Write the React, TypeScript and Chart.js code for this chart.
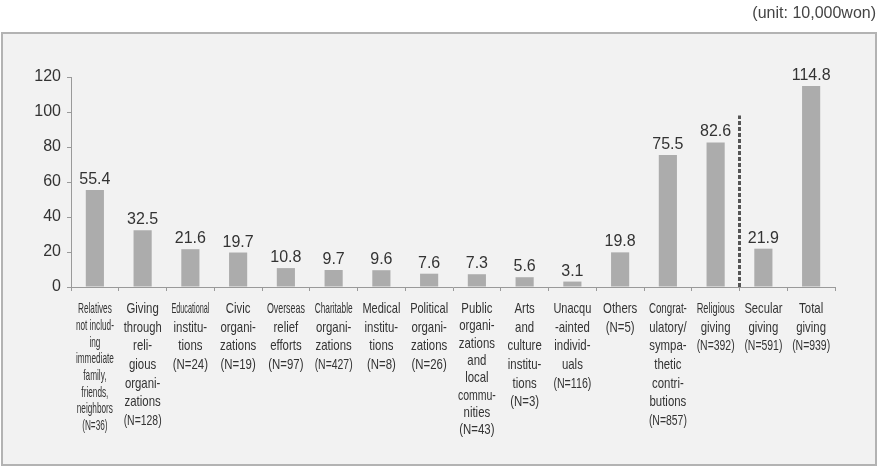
import { useEffect, useRef } from 'react';
import { Chart, registerables } from 'chart.js';

Chart.register(...registerables);

// ---- data ----
const categories: string[][] = [
  ['Relatives', 'not includ-', 'ing', 'immediate', 'family,', 'friends,', 'neighbors', '(N=36)'],
  ['Giving', 'through', 'reli-', 'gious', 'organi-', 'zations', '(N=128)'],
  ['Educational', 'institu-', 'tions', '(N=24)'],
  ['Civic', 'organi-', 'zations', '(N=19)'],
  ['Overseas', 'relief', 'efforts', '(N=97)'],
  ['Charitable', 'organi-', 'zations', '(N=427)'],
  ['Medical', 'institu-', 'tions', '(N=8)'],
  ['Political', 'organi-', 'zations', '(N=26)'],
  ['Public', 'organi-', 'zations', 'and', 'local', 'commu-', 'nities', '(N=43)'],
  ['Arts', 'and', 'culture', 'institu-', 'tions', '(N=3)'],
  ['Unacqu', '-ainted', 'individ-', 'uals', '(N=116)'],
  ['Others', '(N=5)'],
  ['Congrat-', 'ulatory/', 'sympa-', 'thetic', 'contri-', 'butions', '(N=857)'],
  ['Religious', 'giving', '(N=392)'],
  ['Secular', 'giving', '(N=591)'],
  ['Total', 'giving', '(N=939)'],
];
const values: number[] = [55.4, 32.5, 21.6, 19.7, 10.8, 9.7, 9.6, 7.6, 7.3, 5.6, 3.1, 19.8, 75.5, 82.6, 21.9, 114.8];
const yTicks: number[] = [0, 20, 40, 60, 80, 100, 120];
const unitText = '(unit: 10,000won)';
const dividerAfterIndex = 13; // dashed divider between Religious and Secular giving
const dividerTopValue = 98;

// ---- styles ----
const NUM_FONT = '"Liberation Sans", Arial, sans-serif';
const LABEL_FONT = '"Liberation Sans", Arial, sans-serif';
const TEXT_COLOR = '#333333';
const AXIS_COLOR = '#9a9a9a';
const BAR_COLOR = '#acacac';

const decorPlugin = {
  id: 'decor',
  beforeDraw(chart: any) {
    const ctx = chart.ctx as CanvasRenderingContext2D;
    ctx.save();
    ctx.fillStyle = '#ffffff';
    ctx.fillRect(0, 0, chart.width, chart.height);
    ctx.fillStyle = '#f2f2f2';
    ctx.fillRect(2, 33, 874, 432);
    ctx.strokeStyle = '#b3b3b3';
    ctx.lineWidth = 2;
    ctx.strokeRect(2, 33, 874, 432);
    ctx.fillStyle = '#444444';
    ctx.font = `16px ${NUM_FONT}`;
    ctx.textAlign = 'right';
    ctx.textBaseline = 'middle';
    ctx.fillText(unitText, 876, 14);
    ctx.restore();
  },
  afterDatasetsDraw(chart: any) {
    const ctx = chart.ctx as CanvasRenderingContext2D;
    const x = chart.scales.x;
    const y = chart.scales.y;
    const meta = chart.getDatasetMeta(0);
    ctx.save();
    ctx.fillStyle = TEXT_COLOR;
    ctx.font = `16px ${NUM_FONT}`;
    ctx.textAlign = 'center';
    ctx.textBaseline = 'alphabetic';
    meta.data.forEach((bar: any, i: number) => {
      ctx.fillText(values[i].toFixed(1), bar.x, bar.y - 6);
    });
    const dx = (x.getPixelForValue(dividerAfterIndex) + x.getPixelForValue(dividerAfterIndex + 1)) / 2;
    ctx.strokeStyle = '#555555';
    ctx.lineWidth = 3;
    ctx.setLineDash([4, 2]);
    ctx.beginPath();
    ctx.moveTo(dx, y.getPixelForValue(0));
    ctx.lineTo(dx, y.getPixelForValue(dividerTopValue));
    ctx.stroke();
    ctx.restore();
  },
  afterDraw(chart: any) {
    const ctx = chart.ctx as CanvasRenderingContext2D;
    const x = chart.scales.x;
    const y0 = chart.chartArea.bottom;
    ctx.save();
    ctx.fillStyle = TEXT_COLOR;
    ctx.textAlign = 'center';
    ctx.textBaseline = 'middle';
    const maxW = 38;
    ctx.font = `15px ${LABEL_FONT}`;
    const base = Math.min(1, 35.5 / ctx.measureText('organi-').width);
    categories.forEach((lines, i) => {
      const cx = x.getPixelForValue(i);
      const step = i === 0 ? 16.7 : lines.length >= 8 ? 17.3 : 18.6;
      const widths = lines.map((l) => ctx.measureText(l).width * base);
      const groupScale = i === 0 ? Math.min(1, maxW / Math.max(...widths)) : 1;
      lines.forEach((line, j) => {
        const w = widths[j] * groupScale;
        const s = base * groupScale * (w > maxW ? maxW / w : 1);
        const ly = y0 + 22 + j * step;
        ctx.save();
        ctx.translate(cx, ly);
        ctx.scale(s, 1);
        ctx.fillText(line, 0, 0);
        ctx.restore();
      });
    });
    ctx.restore();
  },
};

export default function App() {
  const ref = useRef<HTMLCanvasElement | null>(null);
  useEffect(() => {
    if (!ref.current) return;
    const chart = new Chart(ref.current, {
      type: 'bar',
      data: {
        labels: categories.map((c) => c.join(' ')),
        datasets: [
          {
            data: values,
            backgroundColor: BAR_COLOR,
            barPercentage: 0.38,
            categoryPercentage: 1,
          },
        ],
      },
      options: {
        animation: false,
        responsive: false,
        devicePixelRatio: 1,
        layout: { padding: { top: 77, right: 44, left: 0, bottom: 0 } },
        plugins: { legend: { display: false }, tooltip: { enabled: false }, title: { display: false } },
        scales: {
          x: {
            grid: { drawOnChartArea: false, drawTicks: true, tickLength: 4, color: AXIS_COLOR, offset: true },
            border: { color: AXIS_COLOR, width: 1 },
            ticks: { display: false },
            afterFit: (s: any) => {
              s.height = 181;
            },
          },
          y: {
            min: 0,
            max: 120,
            afterBuildTicks: (s: any) => {
              s.ticks = yTicks.map((v) => ({ value: v }));
            },
            grid: { drawOnChartArea: false, drawTicks: true, tickLength: 4, color: AXIS_COLOR },
            border: { color: AXIS_COLOR, width: 1 },
            ticks: { font: { size: 16, family: NUM_FONT }, color: TEXT_COLOR, padding: 6 },
            afterFit: (s: any) => {
              s.width = 71;
            },
          },
        },
      },
      plugins: [decorPlugin],
    });
    return () => chart.destroy();
  }, []);
  return (
    <div style={{ position: 'absolute', left: 0, top: 0, width: 879, height: 468 }}>
      <canvas ref={ref} width={879} height={468} style={{ display: 'block' }} />
    </div>
  );
}
